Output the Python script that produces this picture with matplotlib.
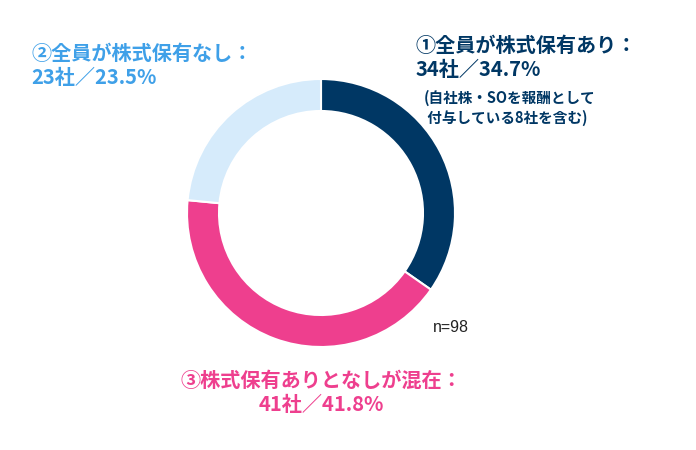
import matplotlib
matplotlib.use("Agg")
import matplotlib.pyplot as plt

categories = ["①全員が株式保有あり", "③株式保有ありとなしが混在", "②全員が株式保有なし"]
counts = [34, 41, 23]
percents = [34.7, 41.8, 23.5]
colors = ["#003764", "#EE3F8E", "#D6EBFB"]
total = 98

plt.rcParams["font.family"] = "Noto Sans CJK JP"
fig = plt.figure(figsize=(6.96, 4.5), dpi=100)
ax = fig.add_axes([0, 0, 1, 1])

ax.pie(counts, colors=colors, startangle=90, counterclock=False,
       center=(321, 237), radius=134, wedgeprops=dict(width=32, edgecolor="white", linewidth=1.5),
       frame=True)
ax.set_xlim(0, 696)
ax.set_ylim(0, 450)
ax.set_aspect("equal")
ax.axis("off")

ax.text(416, 415, f"{categories[0]}：\n{counts[0]}社／{percents[0]}%", color="#003764",
        fontsize=14.5, fontweight="bold", va="top", ha="left", linespacing=1.15)
ax.text(424, 360, "(自社株・SOを報酬として\n 付与している8社を含む)", color="#003764",
        fontsize=10.5, fontweight="bold", va="top", ha="left", linespacing=1.3)
ax.text(31, 407, f"{categories[2]}：\n{counts[2]}社／{percents[2]}%", color="#3FA0E8",
        fontsize=14.5, fontweight="bold", va="top", ha="left", linespacing=1.15)
ax.text(321, 80, f"{categories[1]}：\n{counts[1]}社／{percents[1]}%", color="#EE3F8E",
        fontsize=14.5, fontweight="bold", va="top", ha="center", linespacing=1.2)
ax.text(433, 122, f"n={total}", color="#222222", fontsize=11.5, va="center", ha="left",
        family="Liberation Sans")

fig.savefig("out.png", dpi=100)
